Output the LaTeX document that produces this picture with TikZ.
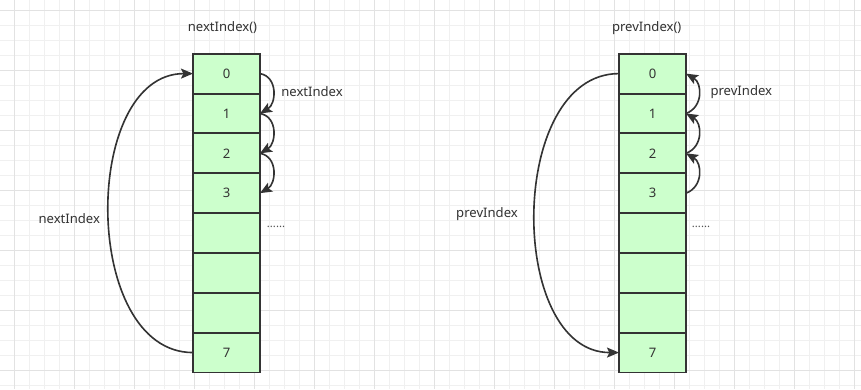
\documentclass[tikz,border=0pt]{standalone}
\usepackage{fontspec}
\setmainfont{Noto Sans}
\usetikzlibrary{arrows.meta, positioning}
\definecolor{cellfill}{HTML}{CCFFCC}
\definecolor{ink}{HTML}{333333}
\definecolor{gridmin}{HTML}{F0F0F0}
\definecolor{gridmaj}{HTML}{E2E2E2}
\tikzset{every node/.append style={align=center}}

\begin{document}
\begin{tikzpicture}[x=0.025cm, y=-0.025cm,
    font=\fontsize{9.3}{11}\selectfont,
    cell/.style={rectangle, draw=ink, fill=cellfill, line width=1.4pt, outer sep=0pt, inner sep=0pt, minimum width=1.675cm, minimum height=0.996cm, text=ink},
    lbl/.style={text=ink, inner sep=1pt},
    dotlbl/.style={text=ink!85, inner sep=0pt, font=\fontsize{8}{9}\selectfont},
    link/.style={-{Stealth[length=3mm, width=2.5mm, inset=0.6mm]}, draw=ink, line width=1.15pt}]
\useasboundingbox (0,0) rectangle (861,389);
\fill[white] (0,0) rectangle (861,389);
% grid
\foreach \gx in {0,...,56} \draw[gridmin, line width=0.7pt] (14.7+15*\gx,0) -- (14.7+15*\gx,389);
\foreach \gy in {0,...,25} \draw[gridmin, line width=0.7pt] (0,10+15*\gy) -- (861,10+15*\gy);
\foreach \gx in {0,...,14} \draw[gridmaj, line width=0.7pt] (14.7+60*\gx,0) -- (14.7+60*\gx,389);
\foreach \gy in {0,...,6} \draw[gridmaj, line width=0.7pt] (0,10+60*\gy) -- (861,10+60*\gy);

% left array
\node[cell] (n0) at (226.5,73.6) {0};
\node[cell, below=0pt of n0] (n1) {1};
\node[cell, below=0pt of n1] (n2) {2};
\node[cell, below=0pt of n2] (n3) {3};
\node[cell, below=0pt of n3] (n4) {};
\node[cell, below=0pt of n4] (n5) {};
\node[cell, below=0pt of n5] (n6) {};
\node[cell, below=0pt of n6] (n7) {7};
\node[lbl] (nt) at (222.5,28) {nextIndex()};
\node[lbl] (nr) at (312,91.7) {nextIndex};
\node[lbl] (nl) at (69.3,219) {nextIndex};
\node[dotlbl] (nd) at (276,226.5) {......};
\draw[link] (n7.west) to[out=180, in=180, looseness=1.03] (n0.west);
\draw[link] (n0.east) to[out=-10, in=30, looseness=1.2] (n1.east);
\draw[link] (n1.east) to[out=-10, in=30, looseness=1.2] (n2.east);
\draw[link] (n2.east) to[out=-10, in=30, looseness=1.2] (n3.east);

% right array
\node[cell] (p0) at (652.5,73.6) {0};
\node[cell, below=0pt of p0] (p1) {1};
\node[cell, below=0pt of p1] (p2) {2};
\node[cell, below=0pt of p2] (p3) {3};
\node[cell, below=0pt of p3] (p4) {};
\node[cell, below=0pt of p4] (p5) {};
\node[cell, below=0pt of p5] (p6) {};
\node[cell, below=0pt of p6] (p7) {7};
\node[lbl] (pt) at (646.7,28) {prevIndex()};
\node[lbl] (pr) at (741.3,91.7) {prevIndex};
\node[lbl] (pl) at (487,214.3) {prevIndex};
\node[dotlbl] (pd) at (701,226.5) {......};
\draw[link] (p0.west) to[out=180, in=180, looseness=1.03] (p7.west);
\draw[link] (p1.east) to[out=20, in=-30, looseness=1.2] (p0.east);
\draw[link] (p2.east) to[out=20, in=-30, looseness=1.2] (p1.east);
\draw[link] (p3.east) to[out=20, in=-30, looseness=1.2] (p2.east);
\end{tikzpicture}
\end{document}
